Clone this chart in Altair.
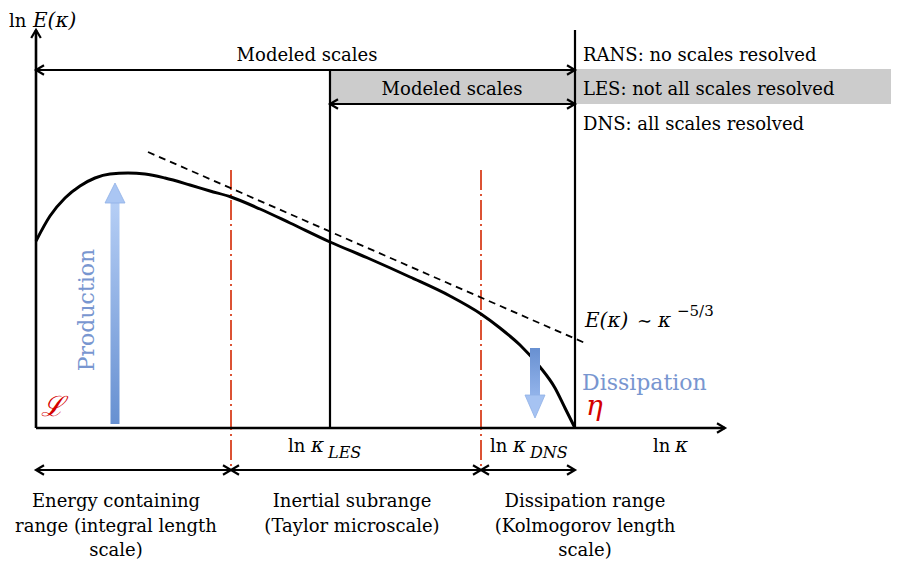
import altair as alt
import pandas as pd

# ---------------------------------------------------------------
# Diagram coordinates: x grows to the right (ln kappa direction),
# y grows downward (screen-like), same units as the 899x568 figure.
# ---------------------------------------------------------------

# energy spectrum curve E(kappa)
curve_x = [36, 50, 65, 80, 95, 110, 128, 145, 165, 190, 210, 231, 260, 290, 330,
           370, 410, 450, 481, 500, 520, 540, 555, 565, 575]
curve_y = [241, 216, 198, 186, 178, 174, 173, 174, 178, 185, 191, 197, 209, 223, 242,
           259, 277, 296, 314, 328, 345, 367, 388, 408, 428]

# -5/3 slope reference line (dashed)
slope_x = [148, 585]
slope_y = [152, 343]

# axes: origin (36, 428)
axes_x = [36, 36]
axes_x2 = [36, 725]
axes_y = [428, 428]
axes_y2 = [30, 428]

# cut-off lines: kappa_LES and kappa_DNS (eta)
cut_x = [330, 575]
cut_y = [70, 30]
cut_y2 = [428, 428]

# range separators (red dash-dot)
sep_x = [231, 481]
sep_y = [170, 170]
sep_y2 = [470, 470]

# dimension arrows (start x, end x, y)
dim_x = [36, 330, 36, 231, 481]
dim_x2 = [575, 575, 231, 481, 575]
dim_y = [70, 104, 470, 470, 470]

# arrow tips (x, y, direction in degrees, clockwise from "right")
tip_x = [36, 725, 36, 575, 330, 575, 36, 231, 231, 481, 481, 575]
tip_y = [30, 428, 70, 70, 104, 104, 470, 470, 470, 470, 470, 470]
tip_a = [270, 0, 180, 0, 180, 0, 180, 0, 180, 0, 180, 0]

# LES band
band_x, band_x2, band_y, band_y2 = [330], [899], [69], [104]

# Production / Dissipation arrows (shaft rect + head centre)
prod_shaft = dict(x=[110.5], x2=[119.5], y=[203], y2=[424])
prod_head = dict(x=[115], y=[193])
diss_shaft = dict(x=[530], x2=[540], y=[348], y2=[395])
diss_head = dict(x=[535], y=[406.5])

# ----- texts -----
reg_center_text = ["Modeled scales", "Modeled scales",
                   "Energy containing", "range (integral length", "scale)",
                   "Inertial subrange", "(Taylor microscale)",
                   "Dissipation range", "(Kolmogorov length", "scale)"]
reg_center_x = [307, 452, 116, 116, 116, 352, 352, 585, 585, 585]
reg_center_y = [61, 95, 507, 532, 556, 507, 532, 507, 532, 556]

reg_left_text = ["RANS: no scales resolved", "LES: not all scales resolved",
                 "DNS: all scales resolved", "ln", "ln", "ln", "ln", "∼"]
reg_left_x = [583, 583, 583, 9, 288, 490, 653, 637]
reg_left_y = [61, 95, 130, 27, 452, 452, 452, 327]

ital_text = ["E(κ)", "κ", "κ", "κ", "E(κ)", "κ"]
ital_x = [33, 311, 513, 675, 585, 658]
ital_y = [27, 452, 452, 452, 327, 327]

sub_text = ["LES", "DNS"]
sub_x = [328, 530]
sub_y = [458, 458]

sup_text = ["−5/3"]
sup_x = [677]
sup_y = [316]

red_text = ["ℒ", "η"]
red_x = [41, 586]
red_y = [416, 415]

# ---------------------------------------------------------------
W, H = 883, 552
xs = alt.Scale(domain=[8, 891], nice=False, zero=False)
ys = alt.Scale(domain=[8, 560], nice=False, zero=False, reverse=True)
FONT = "DejaVu Serif"


def X(f="x"):
    return alt.X(f"{f}:Q", scale=xs, axis=None)


def Y(f="y"):
    return alt.Y(f"{f}:Q", scale=ys, axis=None)


band = alt.Chart(pd.DataFrame(dict(x=band_x, x2=band_x2, y=band_y, y2=band_y2))).mark_rect(
    color="#cccccc").encode(x=X(), x2="x2:Q", y=Y(), y2="y2:Q")

axes = alt.Chart(pd.DataFrame(dict(x=axes_x, x2=axes_x2, y=axes_y, y2=axes_y2))).mark_rule(
    color="black", strokeWidth=2.6).encode(x=X(), x2="x2:Q", y=Y(), y2="y2:Q")

cuts = alt.Chart(pd.DataFrame(dict(x=cut_x, y=cut_y, y2=cut_y2))).mark_rule(
    color="black", strokeWidth=2.2).encode(x=X(), y=Y(), y2="y2:Q")

seps = alt.Chart(pd.DataFrame(dict(x=sep_x, y=sep_y, y2=sep_y2))).mark_rule(
    color="#d9401f", strokeWidth=1.8, strokeDash=[20, 4, 2, 4]).encode(x=X(), y=Y(), y2="y2:Q")

dims = alt.Chart(pd.DataFrame(dict(x=dim_x, x2=dim_x2, y=dim_y))).mark_rule(
    color="black", strokeWidth=2.2).encode(x=X(), x2="x2:Q", y=Y())

chevron = "M -1 -0.6 L 0 0 L -1 0.6"
tips = alt.Chart(pd.DataFrame(dict(x=tip_x, y=tip_y, a=tip_a))).mark_point(
    shape=chevron, size=256, filled=False, color="black", strokeWidth=2.2, opacity=1,
    strokeJoin="miter").encode(x=X(), y=Y(), angle=alt.Angle("a:Q", scale=None))

curve = alt.Chart(pd.DataFrame(dict(x=curve_x, y=curve_y))).mark_line(
    color="black", strokeWidth=3, interpolate="monotone").encode(x=X(), y=Y())

slope = alt.Chart(pd.DataFrame(dict(x=slope_x, y=slope_y))).mark_line(
    color="black", strokeWidth=1.8, strokeDash=[7, 5]).encode(x=X(), y=Y())

prod_grad = alt.Gradient(gradient="linear",
                         stops=[alt.GradientStop(color="#b5cef5", offset=0),
                                alt.GradientStop(color="#6790d1", offset=1)],
                         x1=0, x2=0, y1=0, y2=1)
diss_grad = alt.Gradient(gradient="linear",
                         stops=[alt.GradientStop(color="#6890d1", offset=0),
                                alt.GradientStop(color="#92b3ea", offset=1)],
                         x1=0, x2=0, y1=0, y2=1)

p_shaft = alt.Chart(pd.DataFrame(prod_shaft)).mark_rect(fill=prod_grad).encode(
    x=X(), x2="x2:Q", y=Y(), y2="y2:Q")
p_head = alt.Chart(pd.DataFrame(prod_head)).mark_point(
    shape="M -1 1 L 0 -1 L 1 1 Z", size=400, filled=True, fill="#aac6f3",
    stroke="#8fb0e6", strokeWidth=0.8, opacity=1).encode(x=X(), y=Y())
d_shaft = alt.Chart(pd.DataFrame(diss_shaft)).mark_rect(fill=diss_grad).encode(
    x=X(), x2="x2:Q", y=Y(), y2="y2:Q")
d_head = alt.Chart(pd.DataFrame(diss_head)).mark_point(
    shape="M -0.87 -1 L 0 1 L 0.87 -1 Z", size=529, filled=True, fill="#a6c3f2",
    stroke="#8fb0e6", strokeWidth=0.8, opacity=1).encode(x=X(), y=Y())


def text_layer(texts, tx, ty, **kw):
    df = pd.DataFrame(dict(t=texts, x=tx, y=ty))
    base = dict(font=FONT, baseline="alphabetic", color="black")
    base.update(kw)
    return alt.Chart(df).mark_text(**base).encode(x=X(), y=Y(), text="t:N")


t_center = text_layer(reg_center_text, reg_center_x, reg_center_y, fontSize=18, align="center")
t_left = text_layer(reg_left_text, reg_left_x, reg_left_y, fontSize=18, align="left")
t_ital = text_layer(ital_text, ital_x, ital_y, fontSize=20, align="left", fontStyle="italic")
t_sub = text_layer(sub_text, sub_x, sub_y, fontSize=16, align="left", fontStyle="italic")
t_sup = text_layer(sup_text, sup_x, sup_y, fontSize=15, align="left")
t_red = text_layer(red_text, red_x, red_y, fontSize=28, align="left", fontStyle="italic",
                   color="#d40000")
t_prod = text_layer(["Production"], [87], [310], fontSize=22, align="center",
                    baseline="middle", angle=270, color="#7896d0")
t_diss = text_layer(["Dissipation"], [582], [390], fontSize=22, align="left",
                    color="#7896d0")

chart = alt.layer(
    band, seps, cuts, dims, axes, tips, slope, curve,
    p_shaft, p_head, d_shaft, d_head,
    t_center, t_left, t_ital, t_sub, t_sup, t_red, t_prod, t_diss,
).properties(
    width=W, height=H, padding=0, autosize=alt.AutoSizeParams(type="none"),
    background="white",
).configure_view(stroke=None)

chart.save("out.html", embed_options={"renderer": "svg", "actions": False})
